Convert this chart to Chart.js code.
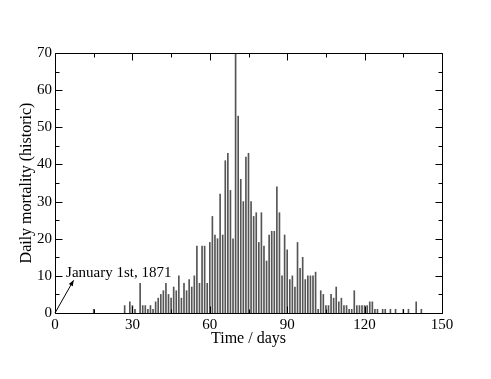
<!DOCTYPE html>
<html>
<head>
<meta charset="utf-8">
<script src="https://cdn.jsdelivr.net/npm/chart.js@4.4.1/dist/chart.umd.min.js"></script>
<style>
  html, body { margin: 0; padding: 0; background: #fff; }
</style>
</head>
<body>
<canvas id="mortalityChart" width="491" height="379"></canvas>
<script>
// daily deaths (days with no bar are left out)
const days = [15, 27, 29, 30, 31, 33, 34, 35, 36, 37, 38, 39, 40, 41, 42, 43, 44, 45, 46, 47,
    48, 49, 50, 51, 52, 53, 54, 55, 56, 57, 58, 59, 60, 61, 62, 63, 64, 65, 66, 67,
    68, 69, 70, 71, 72, 73, 74, 75, 76, 77, 78, 79, 80, 81, 82, 83, 84, 85, 86, 87,
    88, 89, 90, 91, 92, 93, 94, 95, 96, 97, 98, 99, 100, 101, 102, 103, 104, 105, 106, 107,
    108, 109, 110, 111, 112, 113, 114, 115, 116, 117, 118, 119, 120, 121, 122, 123, 124, 125, 127, 128,
    130, 132, 135, 137, 140, 142];
const deaths = [1, 2, 3, 2, 1, 8, 2, 2, 1, 2, 1, 3, 4, 5, 6, 8, 5, 4, 7, 6,
    10, 4, 8, 6, 9, 7, 10, 18, 8, 18, 18, 8, 19, 26, 21, 20, 32, 21, 41, 43,
    33, 20, 70, 53, 36, 30, 42, 43, 30, 26, 27, 19, 27, 18, 14, 21, 22, 22, 34, 27,
    10, 21, 17, 9, 10, 7, 19, 12, 15, 9, 10, 10, 10, 11, 1, 6, 5, 2, 2, 5,
    4, 7, 3, 4, 2, 2, 1, 1, 6, 2, 2, 2, 2, 2, 3, 3, 1, 1, 1, 1,
    1, 1, 1, 1, 3, 1];

const xTicks = [0, 30, 60, 90, 120, 150];
const yTicks = [0, 10, 20, 30, 40, 50, 60, 70];
const xMinorStep = 15;
const yMinorStep = 5;

const noteText = "January 1st, 1871";
const notePos = [4.3, 9.8];      // text start, in data units
const arrowTip = [7.2, 8.8];     // arrow runs from the origin to here

const serif = "'Liberation Serif', 'DejaVu Serif', serif";

const frameTicks = {
    id: "frameTicks",
    afterDatasetsDraw(chart) {
        const { ctx, chartArea: a, scales: { x, y } } = chart;
        const L = Math.round(a.left) + 0.5, R = Math.round(a.right) + 0.5;
        const T = Math.round(a.top) + 0.5, B = Math.round(a.bottom) + 0.5;
        ctx.save();
        ctx.strokeStyle = "#000";
        ctx.lineWidth = 1;
        ctx.beginPath();
        ctx.rect(L, T, R - L, B - T);
        // ticks point inwards on all four sides
        for (let v = x.min; v <= x.max; v += xMinorStep) {
            const px = Math.round(x.getPixelForValue(v)) + 0.5;
            const len = v % 30 === 0 ? 7 : 4;
            ctx.moveTo(px, B); ctx.lineTo(px, B - len);
            ctx.moveTo(px, T); ctx.lineTo(px, T + len);
        }
        for (let v = y.min; v <= y.max; v += yMinorStep) {
            const py = Math.round(y.getPixelForValue(v)) + 0.5;
            const len = v % 10 === 0 ? 7 : 4;
            ctx.moveTo(L, py); ctx.lineTo(L + len, py);
            ctx.moveTo(R, py); ctx.lineTo(R - len, py);
        }
        ctx.stroke();

        // annotation arrow
        const x0 = x.getPixelForValue(0), y0 = y.getPixelForValue(0);
        const x1 = x.getPixelForValue(arrowTip[0]), y1 = y.getPixelForValue(arrowTip[1]);
        const ang = Math.atan2(y1 - y0, x1 - x0);
        ctx.beginPath();
        ctx.moveTo(x0, y0); ctx.lineTo(x1, y1);
        ctx.stroke();
        ctx.beginPath();
        ctx.moveTo(x1, y1);
        ctx.lineTo(x1 - 6 * Math.cos(ang - 0.4), y1 - 6 * Math.sin(ang - 0.4));
        ctx.lineTo(x1 - 6 * Math.cos(ang + 0.4), y1 - 6 * Math.sin(ang + 0.4));
        ctx.closePath();
        ctx.fillStyle = "#000";
        ctx.fill();

        ctx.font = "15px " + serif;
        ctx.textAlign = "left";
        ctx.textBaseline = "alphabetic";
        ctx.fillText(noteText, x.getPixelForValue(notePos[0]), y.getPixelForValue(notePos[1]));
        ctx.restore();
    },
};

const ctx = document.getElementById("mortalityChart").getContext("2d");

const mortalityChart = new Chart(ctx, {
    type: "bar",
    data: {
        datasets: [
            {
                data: days.map((d, i) => ({ x: d, y: deaths[i] })),
                backgroundColor: "#555",
                borderWidth: 0,
                barThickness: 1,
            },
        ],
    },
    options: {
        responsive: false,
        animation: false,
        devicePixelRatio: 1,
        layout: { padding: { top: 53, right: 49, left: 0, bottom: 0 } },
        plugins: {
            legend: { display: false },
            tooltip: { enabled: false },
        },
        scales: {
            x: {
                type: "linear",
                min: 0,
                max: 150,
                offset: false,
                grid: { display: false, drawTicks: false },
                border: { display: false },
                afterBuildTicks: (scale) => {
                    scale.ticks = xTicks.map((v) => ({ value: v }));
                },
                afterFit: (scale) => {
                    scale.height = 66;
                },
                ticks: {
                    color: "#000",
                    padding: 3,
                    maxRotation: 0,
                    font: { family: serif, size: 15 },
                },
                title: {
                    display: true,
                    text: "Time / days",
                    color: "#000",
                    font: { family: serif, size: 16 },
                    padding: { top: 0, bottom: 31 },
                },
            },
            y: {
                min: 0,
                max: 70,
                grid: { display: false, drawTicks: false },
                border: { display: false },
                afterBuildTicks: (scale) => {
                    scale.ticks = yTicks.map((v) => ({ value: v }));
                },
                afterFit: (scale) => {
                    scale.width = 55;
                },
                ticks: {
                    color: "#000",
                    padding: 3,
                    font: { family: serif, size: 15 },
                },
                title: {
                    display: true,
                    text: "Daily mortality (historic)",
                    color: "#000",
                    font: { family: serif, size: 16 },
                    padding: { top: 17, bottom: 0 },
                },
            },
        },
    },
    plugins: [frameTicks],
});
</script>
</body>
</html>
